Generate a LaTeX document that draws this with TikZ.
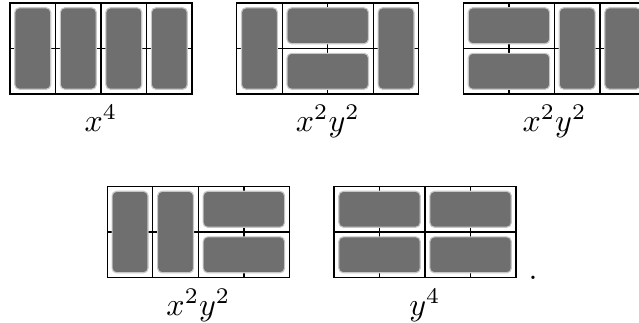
\documentclass[tikz,border=0pt]{standalone}
\begin{document}
\begin{tikzpicture}[x=0.3125pt,y=-0.3125pt,
  gridline/.style={draw=black,line width=0.4pt},
  dom/.style={fill={rgb,255:red,111;green,111;blue,111},draw=black!22,line width=0.35pt,rounded corners=1.4pt},
  lbl/.style={anchor=base,inner sep=0pt}]
\useasboundingbox (0,0) rectangle (639,322);
\clip (0,0) rectangle (639,322);
\def\ins{1.5pt}
\newcommand\dgrid{%
  \draw[gridline] (0,0) rectangle (4,2);
  \foreach \i in {1,2,3} \draw[gridline] (\i,0) -- (\i,2);
  \draw[gridline] (0,1) -- (4,1);}
\newcommand\vdom[1]{\draw[dom] ([xshift=\ins,yshift=-\ins]#1,0) rectangle ([xshift=-\ins,yshift=\ins]#1+1,2);}
\newcommand\hdom[2]{\draw[dom] ([xshift=\ins,yshift=-\ins]#1,#2) rectangle ([xshift=-\ins,yshift=\ins]#1+2,#2+1);}
% grid 1
\begin{scope}[shift={(10,3)},x=0.5cm,y=-0.5cm]
  \dgrid \vdom{0}\vdom{1}\vdom{2}\vdom{3}
\end{scope}
% grid 2
\begin{scope}[shift={(236.7,3)},x=0.5cm,y=-0.5cm]
  \dgrid \vdom{0}\hdom{1}{0}\hdom{1}{1}\vdom{3}
\end{scope}
% grid 3
\begin{scope}[shift={(463.4,3)},x=0.5cm,y=-0.5cm]
  \dgrid \hdom{0}{0}\hdom{0}{1}\vdom{2}\vdom{3}
\end{scope}
% grid 4
\begin{scope}[shift={(107.3,186.5)},x=0.5cm,y=-0.5cm]
  \dgrid \vdom{0}\vdom{1}\hdom{2}{0}\hdom{2}{1}
\end{scope}
% grid 5
\begin{scope}[shift={(334,186.5)},x=0.5cm,y=-0.5cm]
  \dgrid \hdom{0}{0}\hdom{0}{1}\hdom{2}{0}\hdom{2}{1}
\end{scope}
\node[lbl] (l1) at (101,131.5) {$x^4$};
\node[lbl] (l2) at (327.8,131.5) {$x^2y^2$};
\node[lbl] (l3) at (554.5,131.5) {$x^2y^2$};
\node[lbl] (l4) at (198.4,315) {$x^2y^2$};
\node[lbl] (l5) at (425,315) {$y^4$};
\node[lbl] (dot) at (533,279) {.};
\end{tikzpicture}
\end{document}
